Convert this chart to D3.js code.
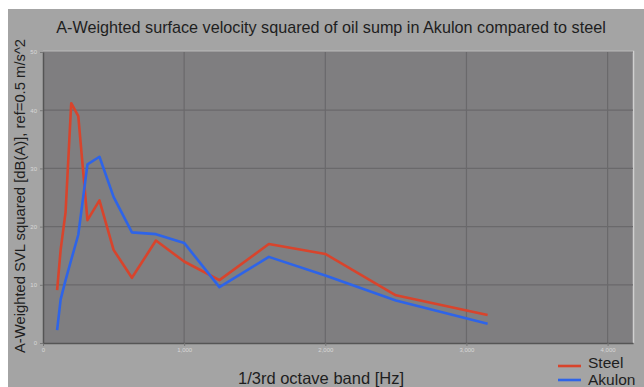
<!DOCTYPE html>
<html>
<head>
<meta charset="utf-8">
<script src="https://cdn.jsdelivr.net/npm/d3@7"></script>
<style>
	body { margin: 0; background: #fff; }
	svg { display: block; font-family: 'Liberation Sans', Arial, sans-serif; }
</style>
</head>
<body>
<div class="chart"></div>
<script>
// 1/3 octave band centre frequencies [Hz]
const bands = [100, 125, 160, 200, 250, 315, 400, 500, 630, 800, 1000, 1250, 1600, 2000, 2500, 3150];
const steel = [9.1, 16, 22.5, 41.2, 39.0, 21.1, 24.5, 16.0, 11.2, 17.6, 14.0, 10.8, 17.0, 15.3, 8.2, 4.8];
const akulon = [2.2, 7.5, 10.8, 14.3, 18.6, 30.7, 32.0, 25.1, 19.0, 18.7, 17.2, 9.6, 14.8, 11.6, 7.3, 3.3];
const seriesNames = ['Steel', 'Akulon'];
const seriesColors = ['#d8442c', '#2e64e8'];
const xTicks = [0, 1000, 2000, 3000, 4000];
const yTicks = [0, 10, 20, 30, 40, 50];

let w = 644;
let h = 387;

let svg = d3.select('.chart').append('svg').attr('width', w).attr('height', h);

// grey panel (white margin top/left)
svg.append('rect').attr('x', 8).attr('y', 9).attr('width', w - 8).attr('height', h - 9).attr('fill', '#a4a4a4');

let xScale = d3.scaleLinear().domain([0, 4180]).range([43, 633]);
let yScale = d3.scaleLinear().domain([0, 50]).range([343, 52]);

// plot area
svg.append('rect')
	.attr('x', 43).attr('y', 52)
	.attr('width', 590).attr('height', 291)
	.attr('fill', '#7f7e80');
// light border top/right
svg.append('path')
	.attr('d', 'M43,51.5 H633.5 V343')
	.attr('fill', 'none')
	.attr('stroke', '#d0d0d0')
	.attr('stroke-width', 1.5);

// grid
svg.append('g')
	.selectAll('line')
	.data(yTicks.slice(1))
	.enter()
	.append('line')
	.attr('x1', 43).attr('x2', 633)
	.attr('y1', d => yScale(d)).attr('y2', d => yScale(d))
	.attr('stroke', '#6a696b').attr('stroke-width', 1.2);
svg.append('g')
	.selectAll('line')
	.data(xTicks.slice(1))
	.enter()
	.append('line')
	.attr('x1', d => xScale(d)).attr('x2', d => xScale(d))
	.attr('y1', 52).attr('y2', 343)
	.attr('stroke', '#6a696b').attr('stroke-width', 1.2);

// axes
let xAxis = svg.append('g')
	.attr('transform', 'translate(0,343)')
	.call(d3.axisBottom(xScale).tickValues(xTicks).tickFormat(d3.format(',')).tickSize(3).tickSizeOuter(0));
let yAxis = svg.append('g')
	.attr('transform', 'translate(43,0)')
	.call(d3.axisLeft(yScale).tickValues(yTicks).tickSize(3).tickSizeOuter(0));
[xAxis, yAxis].forEach(a => {
	a.select('.domain').attr('stroke', '#555').attr('stroke-width', 1.5);
	a.selectAll('.tick line').attr('stroke', '#777');
	a.selectAll('.tick text').attr('fill', '#d8d8d8').attr('font-size', 6);
});
xAxis.selectAll('.tick text').attr('dy', '0.5em');

// lines
let line = d3.line()
	.x((d, i) => xScale(bands[i]))
	.y(d => yScale(d));
[steel, akulon].forEach((s, k) => {
	svg.append('path')
		.datum(s)
		.attr('fill', 'none')
		.attr('stroke', seriesColors[k])
		.attr('stroke-width', 2.6)
		.attr('stroke-linejoin', 'round')
		.attr('d', line);
});

// title
svg.append('text')
	.attr('x', 331)
	.attr('y', 33)
	.attr('text-anchor', 'middle')
	.attr('font-size', 16.2)
	.attr('fill', '#1e1e1e')
	.text('A-Weighted surface velocity squared of oil sump in Akulon compared to steel');

// y label
svg.append('text')
	.attr('transform', 'translate(25,196) rotate(-90)')
	.attr('text-anchor', 'middle')
	.attr('font-size', 14.8)
	.attr('fill', '#1e1e1e')
	.text('A-Weighted SVL squared [dB(A)], ref=0.5 m/s^2');

// x label
svg.append('text')
	.attr('x', 321)
	.attr('y', 384)
	.attr('text-anchor', 'middle')
	.attr('font-size', 16.5)
	.attr('fill', '#1e1e1e')
	.text('1/3rd octave band [Hz]');

// legend
let legend = svg.append('g')
	.selectAll('g')
	.data(seriesNames)
	.enter()
	.append('g')
	.attr('transform', (d, i) => 'translate(558,' + (366 + i * 14) + ')');
legend.append('line')
	.attr('x1', 0).attr('x2', 23)
	.attr('stroke', (d, i) => seriesColors[i])
	.attr('stroke-width', 2.6);
legend.append('text')
	.attr('x', 30)
	.attr('y', (d, i) => i === 0 ? 2 : 5)
	.attr('font-size', 15.5)
	.attr('fill', '#1e1e1e')
	.text(d => d);
</script>
</body>
</html>
